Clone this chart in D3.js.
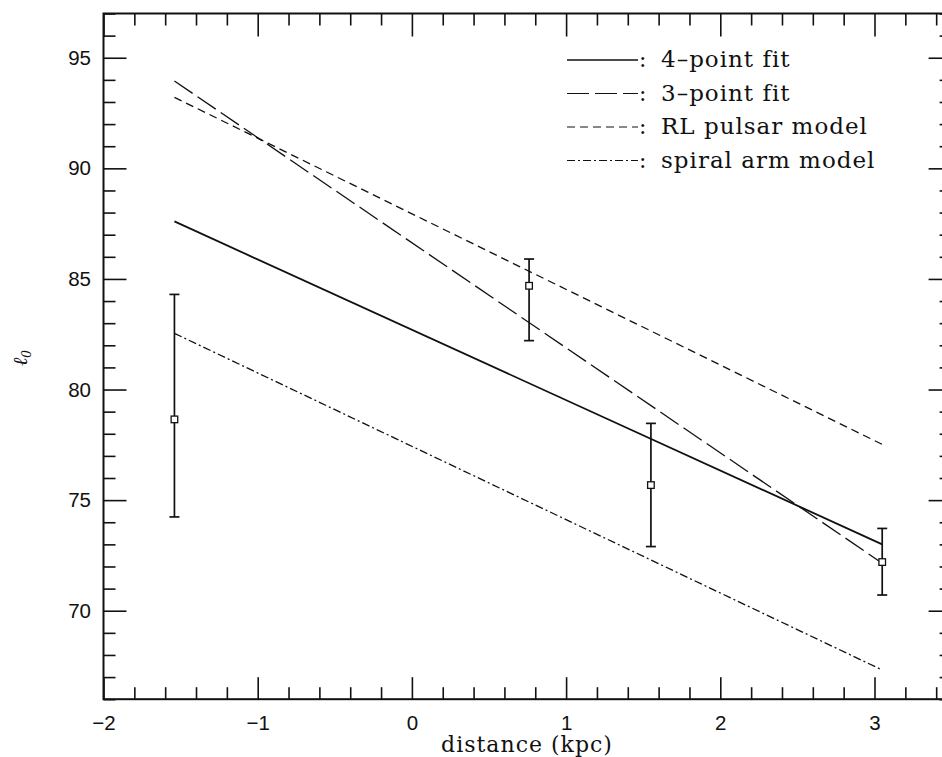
<!DOCTYPE html>
<html>
<head>
  <meta charset="utf-8">
  <style>
    body { margin: 0; background: #fff; }
    .tick text { font-family: "Liberation Sans", Arial, sans-serif; font-size: 20.5px; fill: #111; }
    .tick line { stroke: #111; stroke-width: 1.6; }
    .serif { font-family: "DejaVu Serif", "Liberation Serif", serif; fill: #111; }
  </style>
</head>
<body>
<svg id="chart"></svg>
<script src="https://cdn.jsdelivr.net/npm/d3@7"></script>
<script>
// data points with error bars
var distance = [-1.54, 0.76, 1.55, 3.05];
var l0 = [78.65, 84.69, 75.68, 72.2];
var errHi = [84.3, 85.9, 78.47, 73.72];
var errLo = [74.24, 82.21, 72.9, 70.71];

// fitted / model lines, values at the two ends
var fitX = [-1.54, 3.05];
var fit4 = [87.6, 73.0];
var fit3 = [93.95, 72.15];
var rlModel = [93.21, 77.52];
var spiralModel = [82.54, 67.32];

var xMajor = [-2, -1, 0, 1, 2, 3];
var yMajor = [70, 75, 80, 85, 90, 95];

var legendNames = ['4\u2013point fit', '3\u2013point fit', 'RL pulsar model', 'spiral arm model'];

var width = 942, height = 757;
var mLeft = 103.5, mRight = 951.6, mTop = 13.5, mBottom = 699.2;

var svg = d3.select('#chart')
  .attr('width', width)
  .attr('height', height);

var x = d3.scaleLinear().domain([-2, 3.5]).range([mLeft, mRight]);
var y = d3.scaleLinear().domain([66, 97]).range([mBottom, mTop]);

var xMinor = d3.range(-2, 3.51, 0.2).filter(v => Math.abs(v - Math.round(v)) > 0.01);
var yMinor = d3.range(66, 97.01, 1).filter(v => v % 5 != 0);
var fmt = d3.format('d');

// bottom axis
svg.append('g').attr('transform', `translate(0,${mBottom})`)
  .call(d3.axisBottom(x).tickValues(xMajor).tickSize(-22).tickPadding(16).tickFormat(fmt));
svg.append('g').attr('transform', `translate(0,${mBottom})`)
  .call(d3.axisBottom(x).tickValues(xMinor).tickSize(-12).tickFormat(''));
// top axis
svg.append('g').attr('transform', `translate(0,${mTop})`)
  .call(d3.axisTop(x).tickValues(xMajor).tickSize(-23).tickFormat(''));
svg.append('g').attr('transform', `translate(0,${mTop})`)
  .call(d3.axisTop(x).tickValues(xMinor).tickSize(-12).tickFormat(''));
// left axis
svg.append('g').attr('transform', `translate(${mLeft},0)`)
  .call(d3.axisLeft(y).tickValues(yMajor).tickSize(-23).tickPadding(12.5).tickFormat(fmt));
svg.append('g').attr('transform', `translate(${mLeft},0)`)
  .call(d3.axisLeft(y).tickValues(yMinor).tickSize(-12).tickFormat(''));
// right axis
svg.append('g').attr('transform', `translate(${mRight},0)`)
  .call(d3.axisRight(y).tickValues(yMajor).tickSize(-23).tickFormat(''));
svg.append('g').attr('transform', `translate(${mRight},0)`)
  .call(d3.axisRight(y).tickValues(yMinor).tickSize(-12).tickFormat(''));

svg.selectAll('.domain').remove();

// frame
svg.append('rect')
  .attr('x', mLeft).attr('y', mTop)
  .attr('width', mRight - mLeft).attr('height', mBottom - mTop)
  .attr('fill', 'none').attr('stroke', '#111').attr('stroke-width', 2);

// lines
var styles = [
  { vals: fit4, dash: null, w: 1.8 },
  { vals: fit3, dash: '22,6', w: 1.3 },
  { vals: rlModel, dash: '8,5', w: 1.3 },
  { vals: spiralModel, dash: '8,3,2,3', w: 1.3 }
];

var line = d3.line().x(d => x(d[0])).y(d => y(d[1]));

svg.selectAll('path.fit')
  .data(styles)
  .enter()
  .append('path')
  .attr('class', 'fit')
  .attr('d', s => line(fitX.map((v, i) => [v, s.vals[i]])))
  .attr('fill', 'none')
  .attr('stroke', '#111')
  .attr('stroke-width', s => s.w)
  .attr('stroke-dasharray', s => s.dash);

// error bars
var pts = distance.map((d, i) => ({ x: d, y: l0[i], hi: errHi[i], lo: errLo[i] }));
var cap = 5;

var eb = svg.selectAll('g.err')
  .data(pts)
  .enter()
  .append('g')
  .attr('class', 'err')
  .attr('stroke', '#111')
  .attr('stroke-width', 1.7)
  .attr('fill', 'none');

eb.append('line')
  .attr('x1', d => x(d.x)).attr('x2', d => x(d.x))
  .attr('y1', d => y(d.hi)).attr('y2', d => y(d.lo));
eb.append('line')
  .attr('x1', d => x(d.x) - cap).attr('x2', d => x(d.x) + cap)
  .attr('y1', d => y(d.hi)).attr('y2', d => y(d.hi));
eb.append('line')
  .attr('x1', d => x(d.x) - cap).attr('x2', d => x(d.x) + cap)
  .attr('y1', d => y(d.lo)).attr('y2', d => y(d.lo));
eb.append('rect')
  .attr('x', d => x(d.x) - 3.3).attr('y', d => y(d.y) - 3.3)
  .attr('width', 6.6).attr('height', 6.6)
  .attr('fill', '#fff')
  .attr('stroke-width', 1.3);

// legend
var lg = svg.selectAll('g.legend')
  .data(legendNames)
  .enter()
  .append('g')
  .attr('class', 'legend')
  .attr('transform', (d, i) => `translate(0,${60 + i * 33.5})`);

lg.append('line')
  .attr('x1', 567).attr('x2', 638)
  .attr('y1', 0).attr('y2', 0)
  .attr('stroke', '#111')
  .attr('stroke-width', (d, i) => styles[i].w * 0.8)
  .attr('stroke-dasharray', (d, i) => styles[i].dash);

lg.append('text')
  .attr('class', 'serif')
  .attr('x', 639)
  .attr('y', 7)
  .style('font-size', '22px')
  .text(':');

lg.append('text')
  .attr('class', 'serif')
  .attr('x', 661)
  .attr('y', 7)
  .style('font-size', '23px')
  .style('letter-spacing', '1px')
  .text(d => d);

// axis titles
svg.append('text')
  .attr('class', 'serif')
  .attr('x', 527)
  .attr('y', 752)
  .attr('text-anchor', 'middle')
  .style('font-size', '22px')
  .style('letter-spacing', '1px')
  .text('distance (kpc)');

var yl = svg.append('text')
  .attr('class', 'serif')
  .attr('transform', 'translate(27,358) rotate(-90)')
  .attr('text-anchor', 'middle')
  .style('font-size', '20px')
  .style('font-style', 'italic');
yl.append('tspan').text('\u2113');
yl.append('tspan').attr('dy', 4).style('font-size', '12px').text('0');
</script>
</body>
</html>
